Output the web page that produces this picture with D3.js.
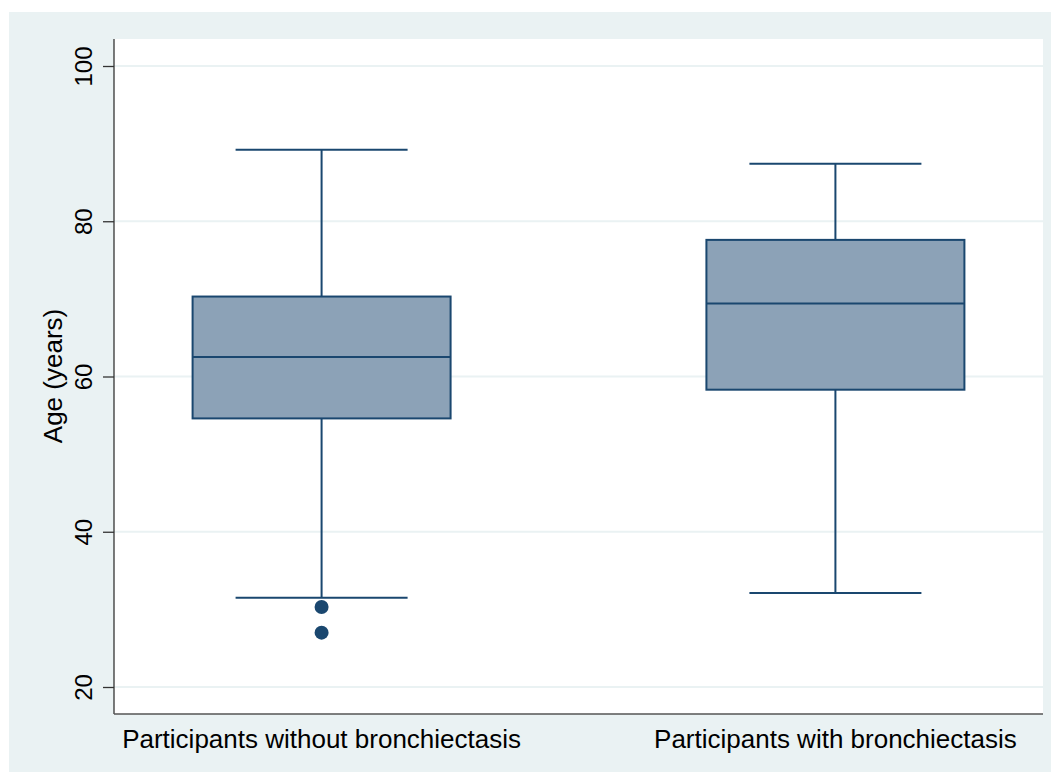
<!DOCTYPE html>
<html>
<head>
<meta charset="utf-8">
<script src="https://cdn.jsdelivr.net/npm/d3@7"></script>
<style>
  body { margin: 0; background: #fff; }
  svg { display: block; }
  text { font-family: "Liberation Sans", Arial, Helvetica, sans-serif; fill: #000; }
</style>
</head>
<body>
<div id="chart"></div>
<script>
// Data
//
var groups = ["Participants without bronchiectasis", "Participants with bronchiectasis"];
var whisker_low = [31.5, 32.1];
var q1 = [54.6, 58.3];
var median = [62.5, 69.4];
var q3 = [70.3, 77.6];
var whisker_high = [89.2, 87.4];
var outliers = [[30.3, 27.0], []];
var y_ticks = [20, 40, 60, 80, 100];

var width = 1051, height = 772;
var plot = {left: 114, right: 1043, top: 39, bottom: 714};

var svg = d3.select("#chart").append("svg")
  .attr("width", width)
  .attr("height", height);

// outer graph region
svg.append("rect")
  .attr("x", 9).attr("y", 12)
  .attr("width", width - 9).attr("height", height - 12)
  .attr("fill", "#eaf2f3");

// plot region
svg.append("rect")
  .attr("x", plot.left).attr("y", plot.top)
  .attr("width", plot.right - plot.left).attr("height", plot.bottom - plot.top)
  .attr("fill", "#fff");

var y = d3.scaleLinear()
  .domain([20, 100])
  .range([687, 66]);

var x = d3.scalePoint()
  .domain(groups)
  .range([plot.left, plot.right])
  .padding(0.404);

var box_w = 258, cap_w = 172;

// grid lines
svg.append("g")
  .selectAll("line")
  .data(y_ticks)
  .enter()
  .append("line")
  .attr("x1", plot.left).attr("x2", plot.right)
  .attr("y1", function(d) { return y(d); })
  .attr("y2", function(d) { return y(d); })
  .attr("stroke", "#eaf2f3")
  .attr("stroke-width", 2);

// y axis
var y_axis = svg.append("g")
  .attr("transform", "translate(" + plot.left + ",0)")
  .call(d3.axisLeft(y).tickValues(y_ticks).tickSize(11).tickFormat(d3.format("d")));
y_axis.select(".domain")
  .attr("d", "M0," + plot.top + "V" + plot.bottom)
  .attr("stroke", "#333")
  .attr("stroke-width", 1.3);
y_axis.selectAll(".tick line").attr("stroke", "#333").attr("stroke-width", 1.3);
y_axis.selectAll(".tick text")
  .attr("x", null).attr("dy", null)
  .attr("transform", "translate(-22,0) rotate(-90)")
  .attr("text-anchor", "middle")
  .style("font-size", "24px")
  .style("font-family", "'Liberation Sans', Arial, sans-serif")
  .attr("fill", "#000");

// x axis line
svg.append("line")
  .attr("x1", plot.left).attr("x2", plot.right)
  .attr("y1", plot.bottom).attr("y2", plot.bottom)
  .attr("stroke", "#555")
  .attr("stroke-width", 1.3);

// x labels
svg.append("g")
  .selectAll("text")
  .data(groups)
  .enter()
  .append("text")
  .attr("x", function(d) { return x(d); })
  .attr("y", 748)
  .attr("text-anchor", "middle")
  .style("font-size", "26px")
  .text(function(d) { return d; });

// y title
svg.append("text")
  .attr("transform", "translate(62,376) rotate(-90)")
  .attr("text-anchor", "middle")
  .style("font-size", "26px")
  .text("Age (years)");

// boxes
var navy = "#1a476f";
var boxes = svg.append("g")
  .selectAll("g")
  .data(groups)
  .enter()
  .append("g");

boxes.append("line") // whisker
  .attr("x1", function(d) { return x(d); })
  .attr("x2", function(d) { return x(d); })
  .attr("y1", function(d, i) { return y(whisker_low[i]); })
  .attr("y2", function(d, i) { return y(whisker_high[i]); })
  .attr("stroke", navy).attr("stroke-width", 2);

[whisker_low, whisker_high].forEach(function(arr) {
  boxes.append("line")
    .attr("x1", function(d) { return x(d) - cap_w / 2; })
    .attr("x2", function(d) { return x(d) + cap_w / 2; })
    .attr("y1", function(d, i) { return y(arr[i]); })
    .attr("y2", function(d, i) { return y(arr[i]); })
    .attr("stroke", navy).attr("stroke-width", 2);
});

boxes.append("rect")
  .attr("x", function(d) { return x(d) - box_w / 2; })
  .attr("y", function(d, i) { return y(q3[i]); })
  .attr("width", box_w)
  .attr("height", function(d, i) { return y(q1[i]) - y(q3[i]); })
  .attr("fill", "#8ca2b7")
  .attr("stroke", navy).attr("stroke-width", 2);

boxes.append("line") // median
  .attr("x1", function(d) { return x(d) - box_w / 2; })
  .attr("x2", function(d) { return x(d) + box_w / 2; })
  .attr("y1", function(d, i) { return y(median[i]); })
  .attr("y2", function(d, i) { return y(median[i]); })
  .attr("stroke", navy).attr("stroke-width", 2);

boxes.each(function(d, i) {
  d3.select(this).selectAll("circle")
    .data(outliers[i])
    .enter()
    .append("circle")
    .attr("cx", x(d))
    .attr("cy", function(v) { return y(v); })
    .attr("r", 7)
    .attr("fill", navy);
});
</script>
</body>
</html>
